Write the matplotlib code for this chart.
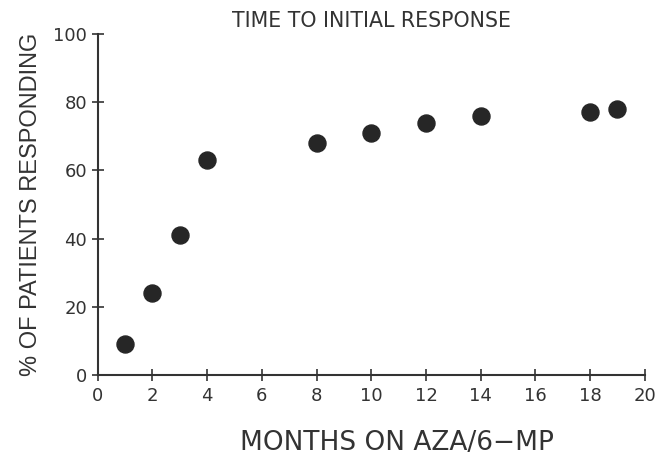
import matplotlib
matplotlib.use("Agg")
import matplotlib.pyplot as plt

# months on AZA/6-MP and % of patients responding
months = [1, 2, 3, 4, 8, 10, 12, 14, 18, 19]
pct_responding = [9, 24, 41, 63, 68, 71, 74, 76, 77, 78]

x_ticks = list(range(0, 21, 2))
y_ticks = list(range(0, 101, 20))

plt.rcParams['font.family'] = ['DejaVu Sans']

fig = plt.figure(figsize=(6.6, 4.57), dpi=100)
ax = fig.add_axes([0.148, 0.179, 0.829, 0.747])

ax.scatter(months, pct_responding, s=150, color='#262626', zorder=3, clip_on=False)

ax.set_xlim(0, 20)
ax.set_ylim(0, 100)
ax.set_xticks(x_ticks)
ax.set_yticks(y_ticks)
ax.tick_params(direction='inout', length=9, width=1.2, labelsize=13, color='#333333',
               labelcolor='#333333')
ax.tick_params(axis='x', pad=4)
ax.tick_params(axis='y', pad=3)

for side in ['top', 'right']:
    ax.spines[side].set_visible(False)
for side in ['left', 'bottom']:
    ax.spines[side].set_linewidth(1.5)
    ax.spines[side].set_color('#333333')

ax.set_title('TIME TO INITIAL RESPONSE', fontsize=14.8, color='#333333', pad=5)
ax.set_xlabel('MONTHS ON AZA/6\u2212MP', fontsize=19, color='#333333')
ax.xaxis.set_label_coords(0.547, -0.16)
ax.set_ylabel('% OF PATIENTS RESPONDING', fontsize=17, color='#333333', labelpad=8,
              family='Liberation Sans')

fig.savefig('out.png', dpi=100)
plt.close(fig)
